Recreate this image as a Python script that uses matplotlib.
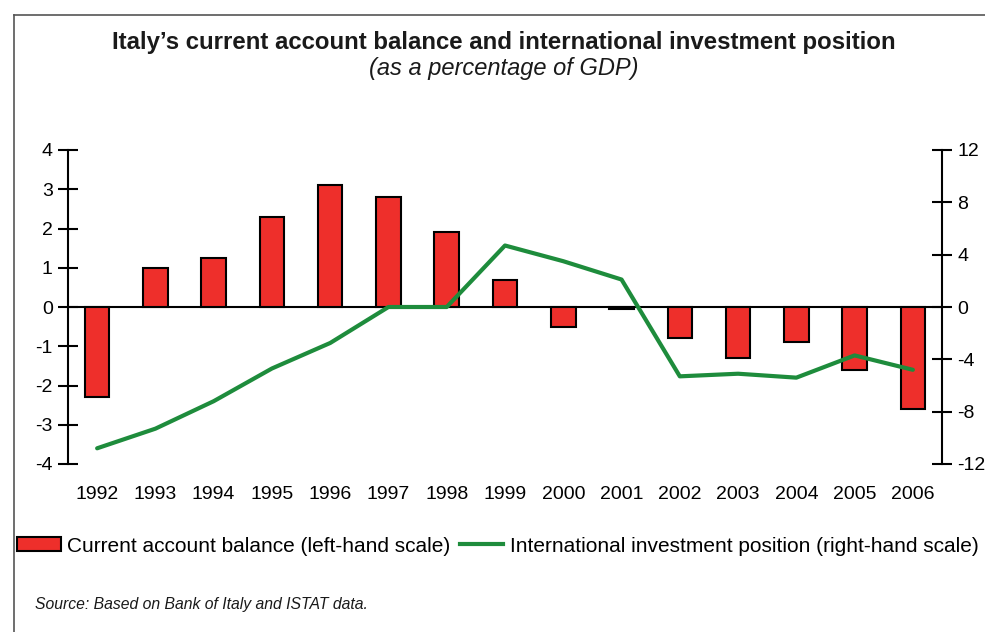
import numpy as np
import matplotlib.pyplot as plt
from matplotlib.lines import Line2D
from matplotlib.patches import Patch

plt.rcParams['font.family'] = ['Liberation Sans', 'DejaVu Sans']
plt.rcParams['axes.unicode_minus'] = False

years = ['1992', '1993', '1994', '1995', '1996', '1997', '1998', '1999',
         '2000', '2001', '2002', '2003', '2004', '2005', '2006']
current_account = [-2.3, 1.0, 1.25, 2.3, 3.1, 2.8, 1.9, 0.7,
                   -0.5, -0.05, -0.8, -1.3, -0.9, -1.6, -2.6]
investment_pos = [-10.8, -9.3, -7.2, -4.7, -2.75, 0.0, 0.0, 4.7,
                  3.5, 2.1, -5.3, -5.1, -5.4, -3.7, -4.8]

left_ticks = [-4, -3, -2, -1, 0, 1, 2, 3, 4]
right_ticks = [-12, -8, -4, 0, 4, 8, 12]

red = '#ee2f2b'
green = '#1e8c3c'

fig = plt.figure(figsize=(9.85, 6.32), dpi=100)
ax = fig.add_axes([68 / 985, 1 - 464 / 632, (942 - 68) / 985, 314 / 632])
x = np.arange(len(years))

ax.bar(x, current_account, width=0.42, color=red, edgecolor='black', linewidth=1.5, zorder=2)
ax.axhline(0, color='black', linewidth=1.5, zorder=1)
ax.set_xlim(-0.5, len(years) - 0.5)
ax.set_ylim(-4, 4)
ax.set_yticks(left_ticks)
ax.set_yticklabels([str(t) for t in left_ticks])
ax.set_xticks(x)
ax.set_xticklabels(years)
ax.tick_params(axis='x', length=0, pad=16, labelsize=14)
ax.tick_params(axis='y', direction='inout', length=14, width=1.5, labelsize=14, pad=4)
for s in ['top', 'right', 'bottom']:
    ax.spines[s].set_visible(False)
ax.spines['left'].set_linewidth(1.5)

ax2 = ax.twinx()
ax2.plot(x, investment_pos, color=green, linewidth=3, solid_capstyle='round', zorder=3)
ax2.set_ylim(-12, 12)
ax2.set_yticks(right_ticks)
ax2.tick_params(axis='y', direction='inout', length=14, width=1.5, labelsize=14, pad=4)
for s in ['top', 'left', 'bottom']:
    ax2.spines[s].set_visible(False)
ax2.spines['right'].set_linewidth(1.5)

fig.text(0.511, 1 - 42 / 632, "Italy\u2019s current account balance and international investment position",
         ha='center', va='center', fontsize=17.3, fontweight='bold', color='#1a1a1a')
fig.text(0.511, 1 - 69 / 632, "(as a percentage of GDP)", ha='center', va='center',
         fontsize=17, style='italic', color='#1a1a1a')

handles = [Patch(facecolor=red, edgecolor='black', linewidth=1.5),
           Line2D([0], [0], color=green, linewidth=3)]
labels = ['Current account balance (left-hand scale)',
          'International investment position (right-hand scale)']
fig.legend(handles, labels, loc='center left', bbox_to_anchor=(17 / 985, 1 - 546 / 632),
           ncol=2, frameon=False, fontsize=15, handlelength=2.1, handleheight=0.65,
           handletextpad=0.3, columnspacing=0.45, borderaxespad=0, borderpad=0)

fig.text(35 / 985, 1 - 605 / 632, "Source: Based on Bank of Italy and ISTAT data.",
         ha='left', va='center', fontsize=11.3, style='italic', color='#1a1a1a')

# frame around the figure area
fig.add_artist(Line2D([14 / 985, 1.0], [1 - 15 / 632, 1 - 15 / 632], color='#555555', linewidth=1.2))
fig.add_artist(Line2D([14 / 985, 14 / 985], [0, 1 - 15 / 632], color='#555555', linewidth=1.2))

fig.savefig('out.png', dpi=100)
